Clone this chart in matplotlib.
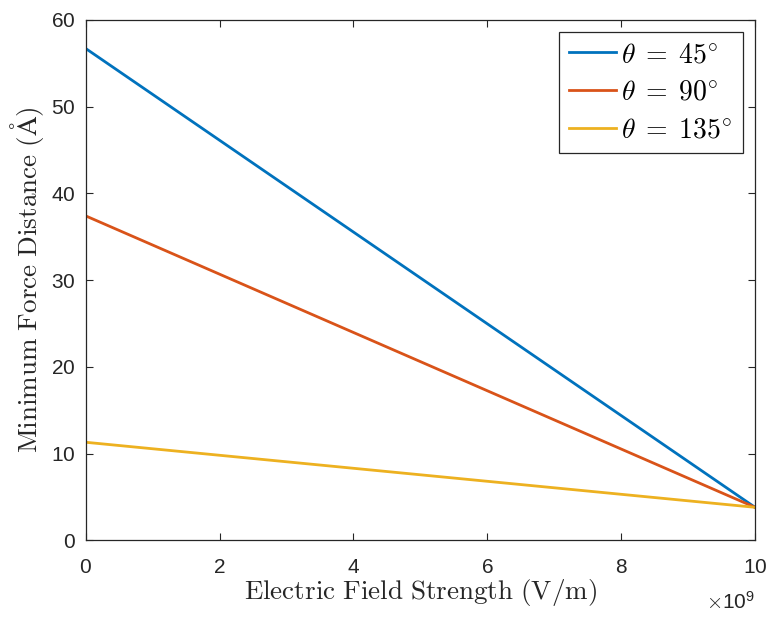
import matplotlib
matplotlib.use('Agg')
import matplotlib.pyplot as plt

# data (straight lines)
field = [0, 1e10]
d45 = [56.7, 3.8]
d90 = [37.4, 3.8]
d135 = [11.3, 3.8]
labels = [r'$\theta\;=\;45^{\circ}$', r'$\theta\;=\;90^{\circ}$', r'$\theta\;=\;135^{\circ}$']
colors = ['#0072BD', '#D95319', '#EDB120']

plt.rcParams['font.family'] = ['Liberation Sans', 'DejaVu Sans']
plt.rcParams['mathtext.fontset'] = 'cm'
plt.rcParams['axes.formatter.use_mathtext'] = True

fig = plt.figure(figsize=(7.72, 6.21), dpi=100)
ax = fig.add_axes([0.111, 0.130, 0.867, 0.838])

for y, lab, c in zip([d45, d90, d135], labels, colors):
    ax.plot(field, y, color=c, lw=2, label=lab)

ax.set_xlim(0, 1e10)
ax.set_ylim(0, 60)
ax.set_xticks([0, 2e9, 4e9, 6e9, 8e9, 10e9])
ax.set_yticks(range(0, 61, 10))
ax.ticklabel_format(axis='x', style='sci', scilimits=(9, 9))
ax.tick_params(direction='in', top=True, right=True, length=5, width=0.8,
               labelsize=15, colors='#262626')
ax.tick_params(axis='x', pad=13)
ax.tick_params(axis='y', pad=7)
# push the x10^9 multiplier a little further below the tick labels
ax.xaxis.OFFSETTEXTPAD = 10
ax.xaxis.get_offset_text().set_fontsize(15)
ax.xaxis.get_offset_text().set_color('#262626')
for s in ax.spines.values():
    s.set_color('#262626')
    s.set_linewidth(0.9)

ax.set_xlabel(r'$\mathrm{Electric\ Field\ Strength\ (V/m)}$', fontsize=19.5, color='#262626', labelpad=0)
ax.set_ylabel(r'$\mathrm{Minimum\ Force\ Distance\ (\AA)}$', fontsize=19.5, color='#262626', labelpad=4)

leg = ax.legend(loc='upper right', fontsize=20, handlelength=1.7, handletextpad=0.2,
                borderpad=0.35, labelspacing=0.42, fancybox=False, framealpha=1,
                edgecolor='#262626', borderaxespad=0.45)
leg.get_frame().set_linewidth(0.9)

fig.savefig('out.png', dpi=100)
